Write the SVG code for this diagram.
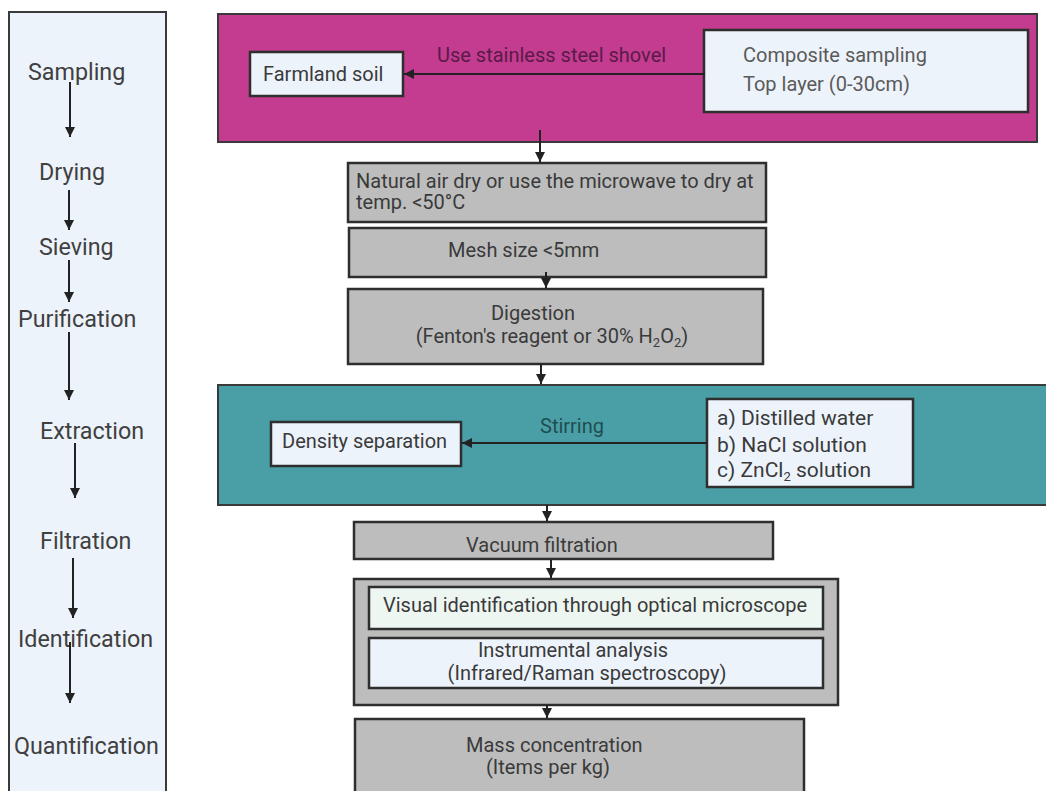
<svg xmlns="http://www.w3.org/2000/svg" width="1046" height="791" viewBox="0 0 1046 791">
<defs>
<marker id="ah" viewBox="0 0 10 10" refX="10" refY="5" markerWidth="10" markerHeight="10" markerUnits="userSpaceOnUse" orient="auto">
<path d="M0,0 L10,5 L0,10 Z" fill="#222"/>
</marker>
<style>
text{font-family:Roboto,"Liberation Sans",sans-serif;}
.lbl{font-size:23.3px;fill:#404040;}
.t{font-size:20px;fill:#3a3a3a;}
.tg{font-size:20px;fill:#5a5a5a;}
.box{stroke:#2e2e2e;stroke-width:2.5;}
.gray{fill:#bdbdbd;}
.lite{fill:#edf3fb;}
.con{stroke:#222;stroke-width:2;fill:none;marker-end:url(#ah);}
</style>
</defs>
<rect width="1046" height="791" fill="#ffffff"/>

<g id="stages">
<rect x="9" y="12" width="157" height="790" fill="#edf3fb" stroke="#3a3a3a" stroke-width="2"/>
<text class="lbl" x="28" y="80">Sampling</text>
<text class="lbl" x="39" y="180">Drying</text>
<text class="lbl" x="39" y="255">Sieving</text>
<text class="lbl" x="18" y="327">Purification</text>
<text class="lbl" x="40" y="439">Extraction</text>
<text class="lbl" x="40" y="549">Filtration</text>
<text class="lbl" x="18" y="647">Identification</text>
<text class="lbl" x="14" y="754">Quantification</text>
</g>

<g id="sampling">
<rect x="218" y="14" width="819" height="128" fill="#c33c8f" stroke="#3a3a3a" stroke-width="2"/>
<text x="437" y="62" style="font-size:20px;fill:#5a1a4a">Use stainless steel shovel</text>
</g>
<g id="farmland">
<rect class="box lite" x="250" y="52" width="153" height="44"/>
<text class="t" x="263" y="81">Farmland soil</text>
</g>
<g id="composite">
<rect class="box lite" x="704" y="30" width="324" height="82"/>
<text class="tg" x="743" y="62">Composite sampling</text>
<text class="tg" x="743" y="91">Top layer (0-30cm)</text>
</g>

<g id="drying">
<rect class="box gray" x="348" y="163" width="418" height="59"/>
<text class="t" x="356" y="188">Natural air dry or use the microwave to dry at</text>
<text class="t" x="356" y="209">temp. &lt;50°C</text>
</g>
<g id="sieving">
<rect class="box gray" x="349" y="228" width="417" height="49"/>
<text class="t" x="448" y="257">Mesh size &lt;5mm</text>
</g>
<g id="digestion">
<rect class="box gray" x="348" y="289" width="415" height="75"/>
<text class="t" x="533" y="320" text-anchor="middle">Digestion</text>
<text class="t" x="552" y="343" text-anchor="middle">(Fenton's reagent or 30% H<tspan font-size="13" dy="4">2</tspan><tspan dy="-4">O</tspan><tspan font-size="13" dy="4">2</tspan><tspan dy="-4">)</tspan></text>
</g>

<g id="extraction">
<rect x="218" y="385" width="840" height="120" fill="#4a9fa6" stroke="#3a3a3a" stroke-width="2"/>
<text x="540" y="433" style="font-size:20px;fill:#1f4e52">Stirring</text>
</g>
<g id="density">
<rect class="box lite" x="271" y="422" width="190" height="44"/>
<text class="t" x="282" y="448">Density separation</text>
</g>
<g id="solutions">
<rect class="box lite" x="707" y="399" width="206" height="88"/>
<text class="t" x="717" y="425" style="font-size:21px">a) Distilled water</text>
<text class="t" x="717" y="452" style="font-size:21px">b) NaCl solution</text>
<text class="t" x="717" y="477" style="font-size:21px">c) ZnCl<tspan font-size="13" dy="4">2</tspan><tspan dy="-4"> solution</tspan></text>
</g>

<g id="filtration">
<rect class="box gray" x="354" y="522" width="419" height="37"/>
<text class="t" x="466" y="552">Vacuum filtration</text>
</g>

<g id="identification">
<rect class="box gray" x="354" y="579" width="484" height="126"/>
</g>
<g id="visual">
<rect class="box" x="369" y="587" width="454" height="42" fill="#eef6f2"/>
<text class="t" x="383" y="612">Visual identification through optical microscope</text>
</g>
<g id="instrumental">
<rect class="box lite" x="369" y="638" width="454" height="50"/>
<text class="t" x="573" y="657" text-anchor="middle">Instrumental analysis</text>
<text class="t" x="587" y="680" text-anchor="middle">(Infrared/Raman spectroscopy)</text>
</g>

<g id="quantification">
<rect class="box gray" x="355" y="719" width="449" height="90"/>
<text class="t" x="466" y="752">Mass concentration</text>
<text class="t" x="486" y="774">(Items per kg)</text>
</g>

<g id="connectors">
<line class="con" x1="70" y1="82" x2="70" y2="137"/>
<line class="con" x1="69" y1="190" x2="69" y2="230"/>
<line class="con" x1="69" y1="260" x2="69" y2="302"/>
<line class="con" x1="69" y1="332" x2="69" y2="400"/>
<line class="con" x1="75" y1="443" x2="75" y2="498"/>
<line class="con" x1="73" y1="558" x2="73" y2="618"/>
<line class="con" x1="70" y1="642" x2="70" y2="703"/>

<line class="con" x1="705" y1="74" x2="404" y2="74"/>
<line class="con" x1="707" y1="443" x2="462" y2="443"/>

<line class="con" x1="540" y1="130" x2="540" y2="162"/>
<line class="con" x1="546" y1="272" x2="546" y2="288"/>
<line class="con" x1="541" y1="364" x2="541" y2="384"/>
<line class="con" x1="547" y1="505" x2="547" y2="521"/>
<line class="con" x1="551" y1="560" x2="551" y2="578"/>
<line class="con" x1="547" y1="705" x2="547" y2="718"/>
</g>
</svg>
